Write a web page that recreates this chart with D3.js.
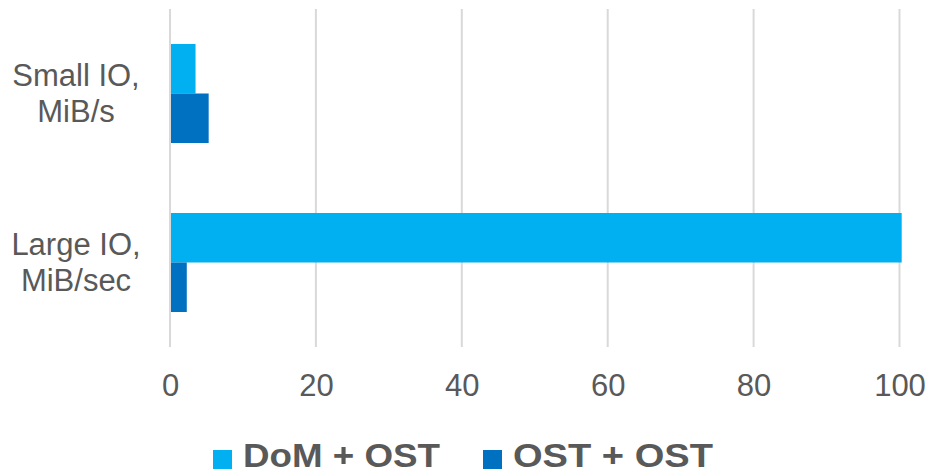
<!DOCTYPE html>
<html>
<head>
<meta charset="utf-8">
<script src="https://cdn.jsdelivr.net/npm/d3@7"></script>
<style>
  html, body { margin: 0; padding: 0; background: #fff; }
  svg { display: block; font-family: "Liberation Sans", Arial, sans-serif; }
</style>
</head>
<body>
<svg id="chart" width="926" height="475"></svg>
<script>
// Throughput by IO type for two layouts
const categories = [["Small IO,", "MiB/s"], ["Large IO,", "MiB/sec"]];
const seriesNames = ["DoM + OST", "OST + OST"];
const domOst = [3.5, 100.3];
const ostOst = [5.3, 2.3];
const tickValues = [0, 20, 40, 60, 80, 100];
const colors = ["#00B0F0", "#0070C0"];

const svg = d3.select("#chart");
const textColor = "#595959";

const catKeys = categories.map(c => c.join(" "));
const values = [domOst, ostOst];

const x = d3.scaleLinear().domain([0, 100]).range([170, 899.5]);
const y = d3.scaleBand().domain(catKeys).range([9, 347]).padding(0);
const ySub = d3.scaleBand().domain(seriesNames).range([0, y.bandwidth()])
  .paddingInner(0).paddingOuter(0.707);

// vertical gridlines
svg.append("g")
  .selectAll("line")
  .data(tickValues)
  .join("line")
  .attr("x1", d => x(d)).attr("x2", d => x(d))
  .attr("y1", 9).attr("y2", 347)
  .attr("stroke", "#D9D9D9")
  .attr("stroke-width", 2);

// bars
const groups = svg.append("g")
  .selectAll("g")
  .data(catKeys)
  .join("g")
  .attr("transform", d => `translate(0,${y(d)})`);

groups.selectAll("rect")
  .data((d, i) => seriesNames.map((s, j) => ({ s, j, v: values[j][i] })))
  .join("rect")
  .attr("x", x(0) + 1)
  .attr("y", d => ySub(d.s))
  .attr("width", d => x(d.v) - x(0) - 1)
  .attr("height", ySub.bandwidth())
  .attr("fill", d => colors[d.j]);

// x axis tick labels
const xAxis = d3.axisBottom(x).tickValues(tickValues).tickSize(0).tickPadding(0);
const gx = svg.append("g").attr("transform", "translate(0,373)").call(xAxis);
gx.select(".domain").remove();
gx.selectAll("text")
  .attr("dy", 0)
  .attr("y", 23)
  .attr("fill", textColor)
  .style("font-size", "31px")
  .style("font-family", "'Liberation Sans', Arial, sans-serif");

// category labels (two lines each)
const catLabels = svg.append("g")
  .selectAll("text")
  .data(categories)
  .join("text")
  .attr("text-anchor", "middle")
  .attr("fill", textColor)
  .style("font-size", "31px")
  .attr("transform", (d, i) => `translate(76,${y(catKeys[i]) + y.bandwidth() / 2})`);

catLabels.selectAll("tspan")
  .data(d => d)
  .join("tspan")
  .attr("x", 0)
  .attr("y", (d, i) => i === 0 ? -8 : 28)
  .text(d => d);

// legend
const legendItems = [
  { name: seriesNames[0], color: colors[0], x: 213, w: 197 },
  { name: seriesNames[1], color: colors[1], x: 483, w: 200 }
];
const legend = svg.append("g")
  .selectAll("g")
  .data(legendItems)
  .join("g")
  .attr("transform", d => `translate(${d.x},0)`);

legend.append("rect")
  .attr("x", 0).attr("y", 450)
  .attr("width", 19).attr("height", 19)
  .attr("fill", d => d.color);

legend.append("text")
  .attr("x", 30).attr("y", 467)
  .attr("fill", textColor)
  .attr("textLength", d => d.w)
  .attr("lengthAdjust", "spacingAndGlyphs")
  .style("font-size", "34px")
  .style("font-weight", "bold")
  .text(d => d.name);
</script>
</body>
</html>
